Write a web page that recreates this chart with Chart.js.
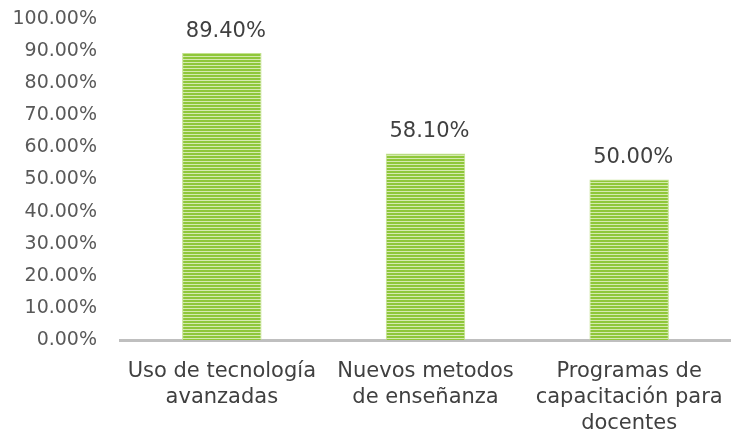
<!DOCTYPE html>
<html lang="es">
<head>
    <meta charset="UTF-8">
    <title>Gráfico</title>
    <script src="https://cdn.jsdelivr.net/npm/chart.js"></script>
    <style>
        body { margin: 0; background: #fff; }
        #wrap { width: 731px; height: 438px; }
    </style>
</head>
<body>
    <div id="wrap"><canvas id="grafico"></canvas></div>

    <script>
        // Datos del gráfico
        const categorias = [
            ['Uso de tecnología', 'avanzadas'],
            ['Nuevos metodos', 'de enseñanza'],
            ['Programas de', 'capacitación para', 'docentes']
        ];
        const valores = [89.4, 58.1, 50.0];
        const etiquetas = ['89.40%', '58.10%', '50.00%'];

        // Patrón de rayas horizontales para las barras
        function crearPatron() {
            const c = document.createElement('canvas');
            c.width = 4;
            c.height = 3;
            const g = c.getContext('2d');
            g.fillStyle = '#d5eaaf';
            g.fillRect(0, 0, 4, 3);
            g.fillStyle = '#8fc73a';
            g.fillRect(0, 0, 4, 2);
            return g.createPattern(c, 'repeat');
        }

        // Plugin para escribir el valor encima de cada barra
        const etiquetasBarras = {
            id: 'etiquetasBarras',
            afterDatasetsDraw(chart) {
                const ctx = chart.ctx;
                const meta = chart.getDatasetMeta(0);
                ctx.save();
                ctx.font = '21px "DejaVu Sans"';
                ctx.fillStyle = '#404040';
                ctx.textAlign = 'center';
                ctx.textBaseline = 'bottom';
                meta.data.forEach((bar, i) => {
                    ctx.fillText(etiquetas[i], bar.x + 4, bar.y - 11);
                });
                ctx.restore();
            }
        };

        const ctx = document.getElementById('grafico').getContext('2d');
        const chart = new Chart(ctx, {
            type: 'bar',
            data: {
                labels: categorias,
                datasets: [{
                    data: valores,
                    backgroundColor: crearPatron(),
                    borderColor: '#c4e28f',
                    borderWidth: { left: 1, right: 1, top: 1, bottom: 0 },
                    barPercentage: 0.39,
                    categoryPercentage: 1
                }]
            },
            options: {
                responsive: true,
                maintainAspectRatio: false,
                animation: false,
                layout: { padding: { left: 0, right: 0, top: 19, bottom: 0 } },
                plugins: {
                    legend: { display: false },
                    tooltip: { enabled: false }
                },
                scales: {
                    x: {
                        grid: { display: false },
                        border: { display: true, color: '#bfbfbf', width: 3 },
                        afterFit: s => { s.height = 98; s.paddingLeft = 0; s.paddingRight = 0; },
                        ticks: {
                            color: '#404040',
                            font: { family: 'DejaVu Sans', size: 21, lineHeight: 1.25 },
                            padding: 10,
                            maxRotation: 0,
                            autoSkip: false
                        }
                    },
                    y: {
                        min: 0,
                        max: 100,
                        grid: { display: false },
                        border: { display: false },
                        afterFit: s => { s.width = 120; s.paddingTop = 0; s.paddingBottom = 0; },
                        ticks: {
                            stepSize: 10,
                            color: '#595959',
                            font: { family: 'DejaVu Sans', size: 19 },
                            padding: 15,
                            callback: v => v.toFixed(2) + '%'
                        }
                    }
                }
            },
            plugins: [etiquetasBarras]
        });
    </script>
</body>
</html>
